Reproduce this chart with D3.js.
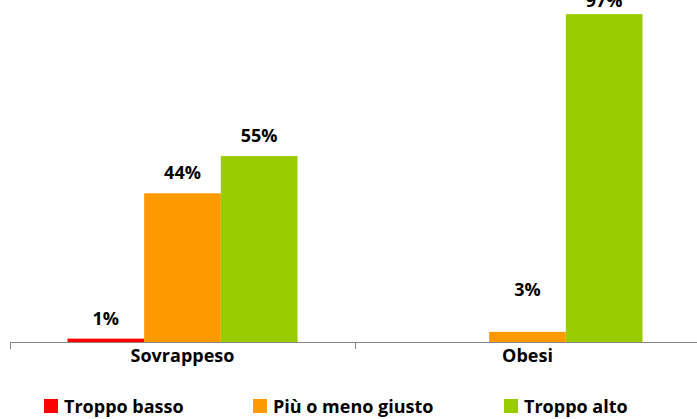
<!DOCTYPE html>
<html>
<head>
<meta charset="utf-8">
<script src="https://cdn.jsdelivr.net/npm/d3@7"></script>
<style>
  body { margin: 0; background: #fff; }
  text { font-family: "Open Sans", Lato, sans-serif; font-weight: bold; fill: #000; }
</style>
</head>
<body>
<script>
// categories and series
var categories = ["Sovrappeso", "Obesi"];
var seriesNames = ["Troppo basso", "Più o meno giusto", "Troppo alto"];
var seriesColors = ["#FF0000", "#FF9900", "#99CC00"];

// percentages per series, one per category
var troppoBasso = [1, 0];
var piuOMeno = [44, 3];
var troppoAlto = [55, 97];

window.onload = function(){
    var w = 697, h = 419;
    var svg = d3.select("body").append("svg")
        .attr("width", w)
        .attr("height", h);

    var values = [troppoBasso, piuOMeno, troppoAlto];
    var rows = [];
    categories.forEach(function(c, ci){
        seriesNames.forEach(function(s, si){
            rows.push({cat: c, series: s, si: si, value: values[si][ci]});
        });
    });

    var x = d3.scaleBand().domain(categories).range([10, 700]);
    var bw = x.bandwidth();
    var x1 = d3.scaleBand().domain(seriesNames).range([bw / 6, bw * 5 / 6]);
    var y = d3.scaleLinear().domain([0, 100]).range([342, 4]);
    var color = d3.scaleOrdinal().domain(seriesNames).range(seriesColors);

    // bars (zero values drawn as nothing)
    svg.selectAll(".bar")
        .data(rows.filter(function(d){ return d.value > 0; }))
        .enter().append("rect")
        .attr("class", "bar")
        .attr("x", function(d){ return x(d.cat) + x1(d.series); })
        .attr("width", x1.bandwidth())
        .attr("y", function(d){ return y(d.value); })
        .attr("height", function(d){ return y(0) - y(d.value); })
        .style("fill", function(d){ return color(d.series); });

    // axis line + band boundary ticks
    svg.append("line")
        .attr("x1", 10).attr("x2", w)
        .attr("y1", y(0) + 0.5).attr("y2", y(0) + 0.5)
        .style("stroke", "#868686");
    svg.selectAll(".tick")
        .data(categories)
        .enter().append("line")
        .attr("x1", function(d){ return Math.round(x(d)) + 0.5; })
        .attr("x2", function(d){ return Math.round(x(d)) + 0.5; })
        .attr("y1", y(0)).attr("y2", y(0) + 7)
        .style("stroke", "#868686");

    svg.selectAll(".catLabel")
        .data(categories)
        .enter().append("text")
        .attr("class", "catLabel")
        .attr("text-anchor", "middle")
        .attr("x", function(d){ return x(d) + bw / 2; })
        .attr("y", 362)
        .style("font-size", "18px")
        .text(function(d){ return d; });

    // data labels (the small 3% one was lifted in the original)
    var lift = {"Obesi|Più o meno giusto": 22};
    svg.selectAll(".valLabel")
        .data(rows.filter(function(d){ return d.value > 0; }))
        .enter().append("text")
        .attr("class", "valLabel")
        .attr("text-anchor", "middle")
        .attr("x", function(d){ return x(d.cat) + x1(d.series) + x1.bandwidth() / 2; })
        .attr("y", function(d){
            var off = 14 + (lift[d.cat + "|" + d.series] || 0);
            return Math.max(7, y(d.value) - off);
        })
        .style("font-size", "18px")
        .text(function(d){ return d.value + "%"; });

    // legend
    var legX = [44, 253, 504];
    var leg = svg.selectAll(".legend")
        .data(seriesNames)
        .enter().append("g")
        .attr("class", "legend")
        .attr("transform", function(d, i){ return "translate(" + legX[i] + ",399)"; });
    leg.append("rect")
        .attr("width", 14).attr("height", 14)
        .style("fill", function(d){ return color(d); });
    leg.append("text")
        .attr("x", 20).attr("y", 14)
        .style("font-size", "18px")
        .text(function(d){ return d; });
};
</script>
</body>
</html>
